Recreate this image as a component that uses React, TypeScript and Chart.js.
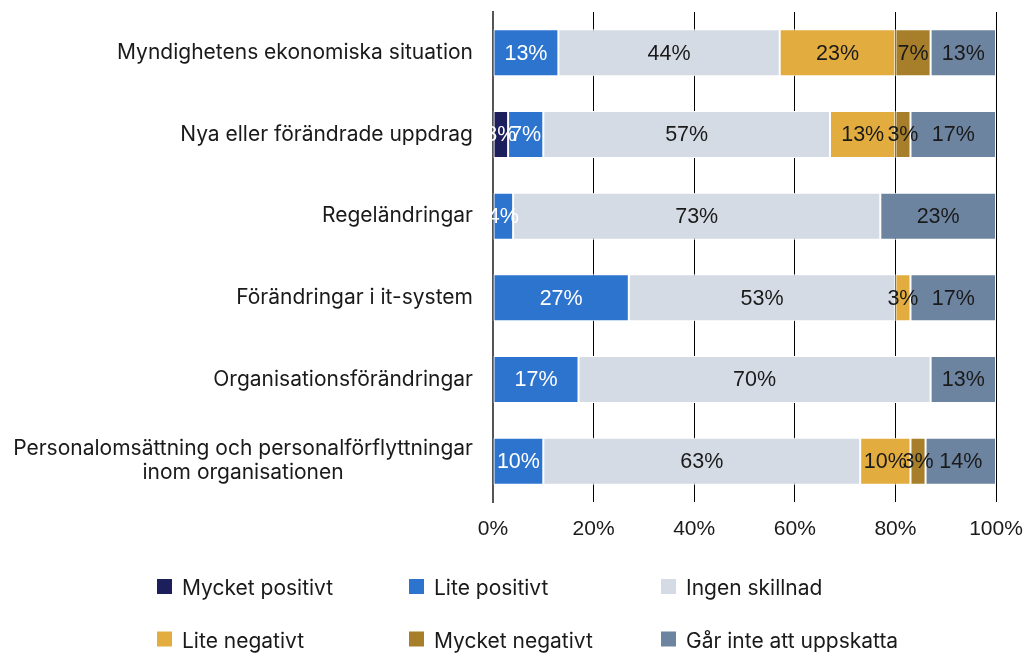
import React, { useEffect, useRef } from "react";
import { Chart, registerables } from "chart.js";

Chart.register(...registerables);

const categories: string[][] = [
  ["Myndighetens ekonomiska situation"],
  ["Nya eller förändrade uppdrag"],
  ["Regeländringar"],
  ["Förändringar i it-system"],
  ["Organisationsförändringar"],
  ["Personalomsättning och personalförflyttningar", "inom organisationen"],
];

const seriesNames = [
  "Mycket positivt",
  "Lite positivt",
  "Ingen skillnad",
  "Lite negativt",
  "Mycket negativt",
  "Går inte att uppskatta",
];

const mycketPositivt = [0, 3, 0, 0, 0, 0];
const litePositivt = [13, 7, 4, 27, 17, 10];
const ingenSkillnad = [44, 57, 73, 53, 70, 63];
const liteNegativt = [23, 13, 0, 3, 0, 10];
const mycketNegativt = [7, 3, 0, 0, 0, 3];
const garInte = [13, 17, 23, 17, 13, 14];

const xTicks = [0, 20, 40, 60, 80, 100];

const colors = ["#1d1f5c", "#2d74ce", "#d5dbe5", "#e2ac3f", "#a77f2a", "#6d84a1"];
const labelColors = ["#ffffff", "#ffffff", "#1a1a1a", "#1a1a1a", "#1a1a1a", "#1a1a1a"];

const LABEL_FONT = "Inter";
const NUM_FONT = "'Liberation Sans', Arial, sans-serif";

const barLabelPlugin = {
  id: "barLabels",
  afterDatasetsDraw(chart: any) {
    const ctx = chart.ctx;
    ctx.save();
    ctx.font = `21.5px ${NUM_FONT}`;
    ctx.textAlign = "center";
    ctx.textBaseline = "middle";
    chart.data.datasets.forEach((ds: any, di: number) => {
      const meta = chart.getDatasetMeta(di);
      meta.data.forEach((el: any, i: number) => {
        const v = ds.data[i];
        if (!v) return;
        const p = el.getProps(["x", "y", "base"], true);
        ctx.fillStyle = labelColors[di];
        ctx.fillText(`${v}%`, (p.x + p.base) / 2, p.y + 1);
      });
    });
    ctx.restore();
  },
};

const categoryLabelPlugin = {
  id: "categoryLabels",
  afterDraw(chart: any) {
    const ctx = chart.ctx;
    const y = chart.scales.y;
    const right = chart.chartArea.left - 20;
    const lh = 24;
    ctx.save();
    ctx.font = `21px ${LABEL_FONT}`;
    ctx.fillStyle = "#1a1a1a";
    ctx.textAlign = "center";
    ctx.textBaseline = "middle";
    categories.forEach((lines, i) => {
      const cy = y.getPixelForValue(i);
      const w = Math.max(...lines.map((l) => ctx.measureText(l).width));
      const cx = right - w / 2;
      lines.forEach((l, k) => {
        ctx.fillText(l, cx, cy + (k - (lines.length - 1) / 2) * lh);
      });
    });
    ctx.restore();
  },
};

const legendPlugin = {
  id: "gridLegend",
  afterDraw(chart: any) {
    const ctx = chart.ctx;
    const colX = [157, 409, 661];
    const rowY = [587, 639.5];
    ctx.save();
    ctx.font = `21px ${LABEL_FONT}`;
    ctx.textBaseline = "middle";
    ctx.textAlign = "left";
    chart.data.datasets.forEach((ds: any, i: number) => {
      const x = colX[i % 3];
      const yy = rowY[Math.floor(i / 3)];
      ctx.fillStyle = ds.backgroundColor;
      ctx.fillRect(x, yy - 8, 15, 15);
      ctx.fillStyle = "#1a1a1a";
      ctx.fillText(ds.label, x + 25, yy + 2);
    });
    ctx.restore();
  },
};

export default function App() {
  const ref = useRef<HTMLCanvasElement | null>(null);
  useEffect(() => {
    if (!ref.current) return;
    const series = [mycketPositivt, litePositivt, ingenSkillnad, liteNegativt, mycketNegativt, garInte];
    const chart = new Chart(ref.current, {
      type: "bar",
      data: {
        labels: categories.map((c) => c.join(" ")),
        datasets: series.map((d, i) => ({
          label: seriesNames[i],
          data: d,
          backgroundColor: colors[i],
          borderColor: "#ffffff",
          borderWidth: 1,
          borderSkipped: false,
          barPercentage: 0.575,
          categoryPercentage: 1,
        })),
      },
      options: {
        indexAxis: "y",
        animation: false,
        responsive: true,
        maintainAspectRatio: false,
        layout: { padding: { top: 12, right: 28, bottom: 112, left: 0 } },
        plugins: {
          legend: { display: false },
          tooltip: { enabled: false },
        },
        scales: {
          x: {
            stacked: true,
            min: 0,
            max: 100,
            afterBuildTicks(scale: any) {
              scale.ticks = xTicks.map((v) => ({ value: v }));
            },
            afterFit(scale: any) {
              scale.height = 40;
              scale.paddingLeft = 0;
              scale.paddingRight = 0;
            },
            ticks: {
              callback: (v: any) => `${v}%`,
              font: { family: NUM_FONT, size: 21 },
              color: "#1a1a1a",
              padding: 15,
              maxRotation: 0,
            },
            grid: { color: "#000000", lineWidth: 1, drawTicks: false },
            border: { display: false },
          },
          y: {
            stacked: true,
            afterFit(scale: any) {
              scale.width = 493;
            },
            ticks: { display: false },
            grid: { display: false, drawTicks: false },
            border: { display: true, color: "#555555", width: 2 },
          },
        },
      },
      plugins: [barLabelPlugin, categoryLabelPlugin, legendPlugin],
    });
    return () => chart.destroy();
  }, []);
  return (
    <div style={{ position: "absolute", left: 0, top: 0, width: 1024, height: 654, background: "#fff" }}>
      <canvas ref={ref} />
    </div>
  );
}
